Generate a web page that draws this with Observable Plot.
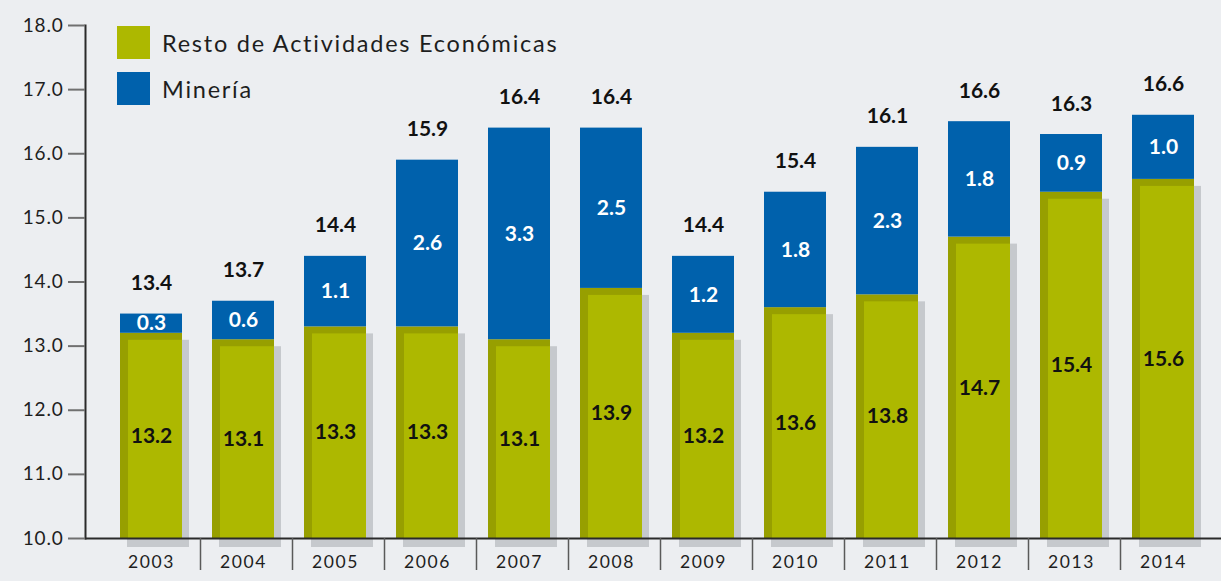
<!DOCTYPE html>
<html>
<head>
<meta charset="utf-8">
<script src="https://cdn.jsdelivr.net/npm/d3@7"></script>
<script src="https://cdn.jsdelivr.net/npm/@observablehq/plot@0.6"></script>
<style>
  html, body { margin: 0; padding: 0; background: #eceef1; }
  #wrap { position: relative; width: 1221px; height: 581px; overflow: hidden; }
  #legend { position: absolute; left: 117px; top: 26px; font-family: Lato, sans-serif; color: #1e1e1e; font-size: 23.5px; letter-spacing: 1.75px; }
  .row { display: flex; align-items: center; height: 33px; margin-bottom: 13px; }
  .sw { width: 33px; height: 33px; margin-right: 12px; }
  #wrap svg g[aria-label="x-axis tick label"] text { letter-spacing: 1.6px; }
  #wrap svg g[aria-label="y-axis tick label"] text { letter-spacing: 0.8px; }
</style>
</head>
<body>
<div id="wrap"></div>
<script>
const years = ["2003","2004","2005","2006","2007","2008","2009","2010","2011","2012","2013","2014"];
const resto = [13.2,13.1,13.3,13.3,13.1,13.9,13.2,13.6,13.8,14.7,15.4,15.6];
const mineria = [0.3,0.6,1.1,2.6,3.3,2.5,1.2,1.8,2.3,1.8,0.9,1.0];
const totals = [13.4,13.7,14.4,15.9,16.4,16.4,14.4,15.4,16.1,16.6,16.3,16.6];
const yTicks = [10,11,12,13,14,15,16,17,18];
const seriesNames = ["Resto de Actividades Económicas", "Minería"];
const colors = ["#adb800", "#0061ac"];

const data = years.map((year, i) => ({year, resto: resto[i], mineria: mineria[i], total: totals[i]}));
const fmt = d3.format(".1f");
const base = 10;

const chart = Plot.plot({
  width: 1221,
  height: 581,
  marginTop: 25,
  marginBottom: 43,
  marginLeft: 85,
  marginRight: 0,
  style: {background: "transparent", fontFamily: "Lato, sans-serif", color: "#1e1e1e", overflow: "visible"},
  x: {domain: years, range: [104, 1210.4], paddingInner: 0.33, paddingOuter: 0.165, label: null},
  y: {domain: [10, 18], label: null},
  marks: [
    // shadow
    Plot.rectY(data, {x: "year", y1: base, y2: "resto", fill: "#c6c9cd", dx: 7, dy: 7, insetBottom: -2}),
    // green bar (dark edge + light body)
    Plot.rectY(data, {x: "year", y1: base, y2: "resto", fill: "#979f00"}),
    Plot.rectY(data, {x: "year", y1: base, y2: "resto", fill: colors[0], insetLeft: 8, insetTop: 7}),
    // blue segment
    Plot.rectY(data, {x: "year", y1: "resto", y2: d => d.resto + d.mineria, fill: colors[1]}),
    // axes lines
    Plot.ruleY([base], {stroke: "#2a2a2a", strokeWidth: 2}),
    Plot.frame({anchor: "left", stroke: "#2a2a2a", strokeWidth: 2}),
    Plot.axisY({ticks: yTicks, tickFormat: fmt, tickSize: 17, tickPadding: 5, stroke: "#707070", strokeWidth: 2, fontSize: 19, fill: "#1e1e1e", label: null}),
    Plot.axisX({tickSize: 0, tickPadding: 17, fontSize: 17.5, fill: "#1e1e1e", label: null}),
    Plot.axisX({ticks: years.slice(0, -1), tickSize: 32, tickFormat: () => "", dx: 49, stroke: "#5a5a5a", strokeWidth: 1.5, label: null}),
    // labels
    Plot.text(data, {x: "year", y: d => (base + d.resto) / 2, text: d => fmt(d.resto), fontSize: 21, fontWeight: "bold", fill: "#111"}),
    Plot.text(data, {x: "year", y: d => d.resto + d.mineria / 2, text: d => fmt(d.mineria), fontSize: 21, fontWeight: "bold", fill: "#ffffff"}),
    Plot.text(data, {x: "year", y: d => d.resto + d.mineria, text: d => fmt(d.total), fontSize: 21, fontWeight: "bold", fill: "#111", lineAnchor: "bottom", dy: -24})
  ]
});

const wrap = document.getElementById("wrap");
wrap.appendChild(chart);
const legend = document.createElement("div");
legend.id = "legend";
seriesNames.forEach((name, i) => {
  const row = document.createElement("div");
  row.className = "row";
  const sw = document.createElement("div");
  sw.className = "sw";
  sw.style.background = colors[i];
  const label = document.createElement("span");
  label.textContent = name;
  row.appendChild(sw);
  row.appendChild(label);
  legend.appendChild(row);
});
wrap.appendChild(legend);
</script>
</body>
</html>
